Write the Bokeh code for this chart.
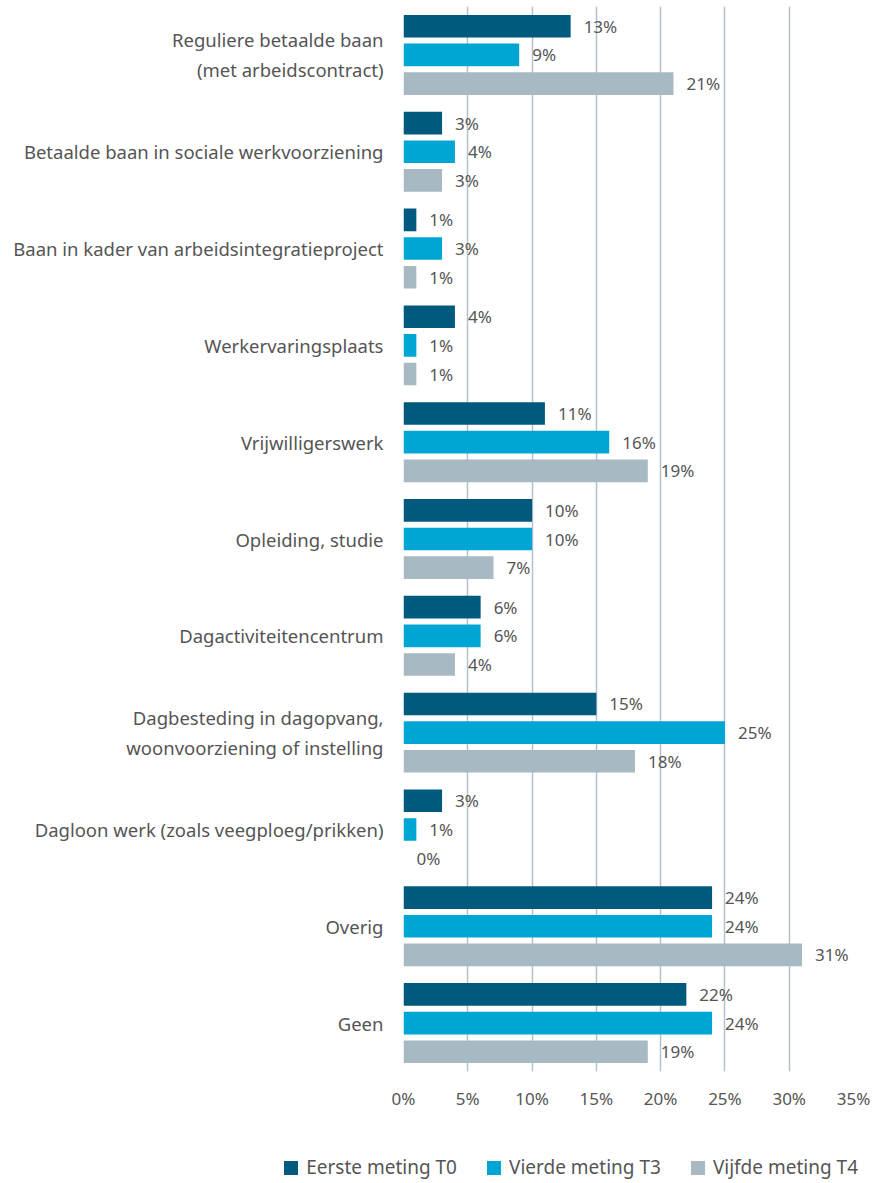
from bokeh.plotting import figure
from bokeh.models import Range1d, FixedTicker, ColumnDataSource, Div
from bokeh.layouts import column
from bokeh.core.properties import value
from bokeh.embed import file_html
from bokeh.resources import INLINE

categories = [
    "Reguliere betaalde baan\n(met arbeidscontract)",
    "Betaalde baan in sociale werkvoorziening",
    "Baan in kader van arbeidsintegratieproject",
    "Werkervaringsplaats",
    "Vrijwilligerswerk",
    "Opleiding, studie",
    "Dagactiviteitencentrum",
    "Dagbesteding in dagopvang,\nwoonvoorziening of instelling",
    "Dagloon werk (zoals veegploeg/prikken)",
    "Overig",
    "Geen",
]
series_names = ["Eerste meting T0", "Vierde meting T3", "Vijfde meting T4"]
t0 = [13, 3, 1, 4, 11, 10, 6, 15, 3, 24, 22]
t3 = [9, 4, 3, 1, 16, 10, 6, 25, 1, 24, 24]
t4 = [21, 3, 1, 1, 19, 7, 4, 18, 0, 31, 19]
x_ticks = [0, 5, 10, 15, 20, 25, 30, 35]
x_tick_labels = ["0%", "5%", "10%", "15%", "20%", "25%", "30%", "35%"]

colors = ["#005a7e", "#00a6d3", "#a7b9c3"]
FONT = "Noto Sans"
TXT = "#555555"

n = len(categories)

p = figure(frame_width=450, frame_height=1065, output_backend="svg", toolbar_location=None,
           x_range=Range1d(0, 35), y_range=Range1d(n - 0.5, -0.5),
           min_border_left=403, min_border_right=18, min_border_top=6,
           min_border_bottom=0)
p.outline_line_color = None

pitch = 0.296
bh = 0.234
for k, vals in enumerate([t0, t3, t4]):
    ys = [i + (k - 1) * pitch for i in range(n)]
    src = ColumnDataSource(dict(y=ys, v=vals, lab=[f"{v}%" for v in vals]))
    p.hbar(y="y", right="v", left=0, height=bh, source=src,
           fill_color=colors[k], line_color=None)
    p.text(x="v", y="y", text="lab", source=src, x_offset=13,
           text_baseline="middle", text_align="left",
           text_font=value(FONT), text_font_size="17px", text_color=TXT)

p.xaxis.ticker = FixedTicker(ticks=x_ticks)
p.xaxis.major_label_overrides = {t: l for t, l in zip(x_ticks, x_tick_labels)}
p.xaxis.axis_line_color = None
p.xaxis.major_tick_line_color = None
p.xaxis.minor_tick_line_color = None
p.xaxis.major_tick_out = 0
p.xaxis.major_label_standoff = 15
p.xaxis.major_label_text_font = FONT
p.xaxis.major_label_text_font_size = "17px"
p.xaxis.major_label_text_color = TXT

p.yaxis.ticker = FixedTicker(ticks=list(range(n)))
p.yaxis.major_label_overrides = {i: c for i, c in enumerate(categories)}
p.yaxis.axis_line_color = None
p.yaxis.major_tick_line_color = None
p.yaxis.minor_tick_line_color = None
p.yaxis.major_tick_out = 0
p.yaxis.major_label_standoff = 20
p.yaxis.major_label_text_font = FONT
p.yaxis.major_label_text_font_size = "18.5px"
p.yaxis.major_label_text_color = TXT
p.yaxis.major_label_text_align = "right"

p.ygrid.grid_line_color = None
p.xgrid.ticker = FixedTicker(ticks=x_ticks)
p.xgrid.grid_line_color = "#b3c2cc"
p.xgrid.grid_line_width = 1.5

# legend row (HTML) below the chart
parts = []
for i, (nm, c) in enumerate(zip(series_names, colors)):
    gap = "" if i == 0 else '<span style="display:inline-block;width:30px"></span>'
    parts.append(
        f'{gap}<span style="display:inline-block;width:14px;height:14px;background:{c};'
        f'margin-right:8px;vertical-align:-1px"></span>{nm}'
    )
html = (f'<div style="width:858px;text-align:right;padding-top:44px;'
        f'font-family:\'{FONT}\';font-size:19px;line-height:22px;color:{TXT};'
        f'white-space:nowrap">' + "".join(parts) + "</div>")
legend_div = Div(text=html, width=871, height=64, margin=(0, 0, 0, 0))

open("out.html", "w").write(file_html(column(p, legend_div, spacing=0), INLINE))
